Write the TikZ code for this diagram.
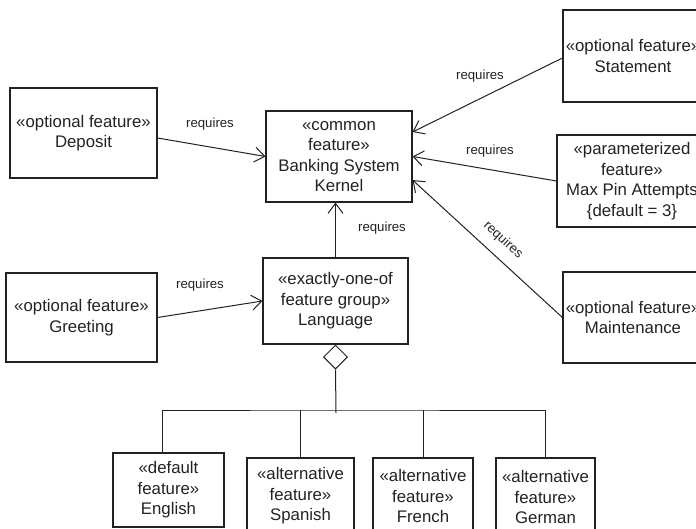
\documentclass[tikz,border=0pt]{standalone}
\usepackage{fontspec}
\setmainfont{Liberation Sans}
\usetikzlibrary{arrows.meta,shapes.geometric}
\definecolor{ink}{HTML}{222222}
\tikzset{
  feat/.style={draw=ink, line width=1.1pt, text=ink, align=center, inner sep=0pt,
    font=\fontsize{16.8}{20.5}\selectfont},
  req/.style={draw=ink, line width=1pt, -{Straight Barb[length=10pt,width=15pt,line width=1pt]}},
  lbl/.style={text=ink, font=\fontsize{13.2}{15}\selectfont, inner sep=0pt},
  wire/.style={draw=ink, line width=1pt}
}
\begin{document}
\begin{tikzpicture}[x=1pt,y=-1pt]
\useasboundingbox (0,0) rectangle (696,529);
\clip (0,0) rectangle (696,529);
% feature boxes
\node[feat, minimum width=147pt, minimum height=90pt] (deposit) at (83.5,133) {«optional feature»\\Deposit};
\node[feat, minimum width=146pt, minimum height=91pt] (kernel) at (339,156.5) {«common\\feature»\\Banking System\\Kernel};
\node[feat, minimum width=140pt, minimum height=92pt] (statement) at (633,56) {«optional feature»\\Statement};
\node[feat, minimum width=150pt, minimum height=92pt] (maxpin) at (632,181) {«parameterized\\feature»\\Max Pin Attempts\\\{default = 3\}};
\node[feat, minimum width=140pt, minimum height=91pt] (maint) at (633,317.5) {«optional feature»\\Maintenance};
\node[feat, minimum width=145pt, minimum height=86pt] (language) at (335.5,301) {«exactly-one-of\\feature group»\\Language};
\node[feat, minimum width=151pt, minimum height=89pt] (greeting) at (81.5,317.5) {«optional feature»\\Greeting};
\node[feat, minimum width=111pt, minimum height=74pt] (english) at (168.5,490) {«default\\feature»\\English};
\node[feat, minimum width=107pt, minimum height=76pt] (spanish) at (300.5,496) {«alternative\\feature»\\Spanish};
\node[feat, minimum width=100pt, minimum height=76pt] (french) at (423,496) {«alternative\\feature»\\French};
\node[feat, minimum width=99pt, minimum height=78pt] (german) at (545.5,497) {«alternative\\feature»\\German};
% requires connectors
\draw[req] ([yshift=-5pt]deposit.east) -- (kernel.west);
\draw[req] ([yshift=-2pt]statement.west) -- ([yshift=24.5pt]kernel.east);
\draw[req] (maxpin.west) -- (kernel.east);
\draw[req] (maint.west) -- ([yshift=-23.5pt]kernel.east);
\draw[req] (greeting.east) -- (language.west);
\draw[req] (language.north) -- (language.north |- kernel.south);
% labels
\node[lbl] (l1) at (210,124) {requires};
\node[lbl] (l2) at (480,76) {requires};
\node[lbl] (l3) at (490,151) {requires};
\node[lbl, rotate=-42] (l4) at (503,240) {requires};
\node[lbl] (l5) at (200,285) {requires};
\node[lbl] (l6) at (382,228) {requires};
% aggregation
\node[draw=ink, line width=1pt, shape=diamond, minimum width=24pt, minimum height=24pt, inner sep=0pt, fill=white, anchor=north] (dia) at (language.south) {};
\coordinate (bus) at (336,410);
\draw[wire] (dia.south) -- ([yshift=-3pt]bus);
\draw[wire] ([xshift=-6.5pt]english.north) |- (bus) -| (german.north);
\draw[wire] (spanish.north) -- (spanish.north |- bus);
\draw[wire] (french.north) -- (french.north |- bus);
\end{tikzpicture}
\end{document}
